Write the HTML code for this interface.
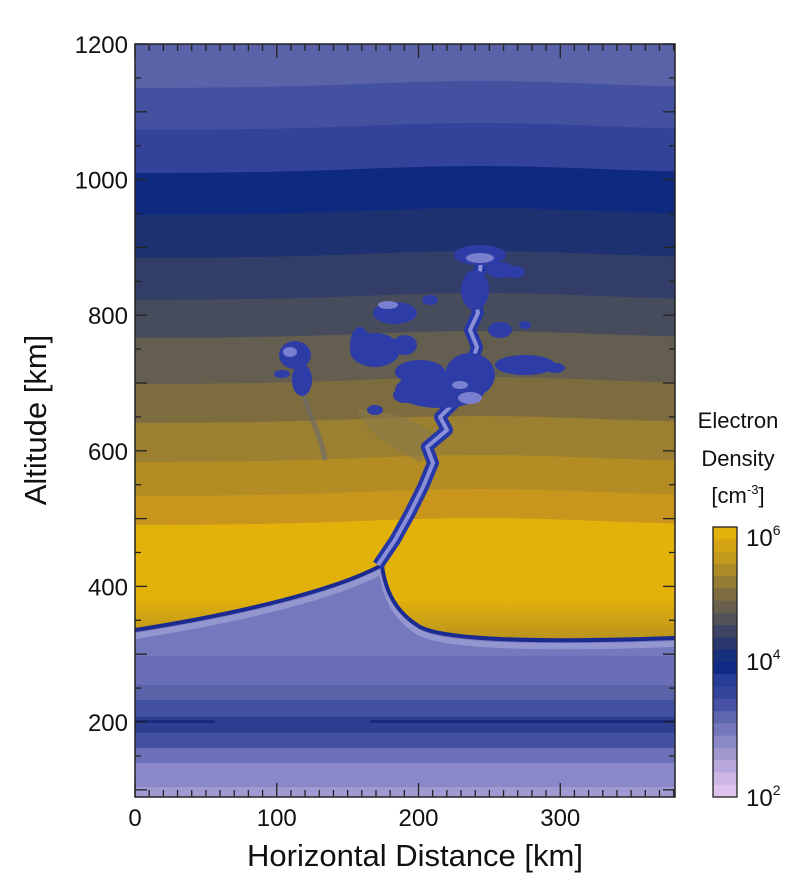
<!DOCTYPE html>
<html><head><meta charset="utf-8"><style>
body{margin:0;background:#fff;width:800px;height:881px;overflow:hidden}
svg text{font-family:"Liberation Sans",sans-serif;fill:#111}
</style></head><body>
<svg id="s" width="800" height="881" xmlns="http://www.w3.org/2000/svg">
<defs>
<clipPath id="c"><rect x="135" y="44" width="540" height="753"/></clipPath>
<linearGradient id="yg" x1="0" y1="0" x2="0" y2="1">
<stop offset="0" stop-color="#e3b20a"/><stop offset="0.93" stop-color="#e3b20a"/><stop offset="1" stop-color="#b8921e"/></linearGradient>
</defs>
<g clip-path="url(#c)" id="plot"></g>
<rect x="135" y="44" width="540" height="753" fill="none" stroke="#222" stroke-width="1.5"/>
<g id="ticks" stroke="#222" stroke-width="1.3"></g>
<g id="labels" font-size="24"></g>
<text x="0" y="0" font-size="31" text-anchor="middle" transform="translate(46,420) rotate(-90)">Altitude [km]</text>
<text x="415" y="866" font-size="31" text-anchor="middle">Horizontal Distance [km]</text>
<g id="cb"></g>
<rect x="713" y="527" width="24" height="270" fill="none" stroke="#222" stroke-width="1.3"/>
<text x="738" y="428" font-size="22" text-anchor="middle">Electron</text>
<text x="738" y="466" font-size="22" text-anchor="middle">Density</text>
<text x="738" y="503" font-size="22" text-anchor="middle">[cm<tspan font-size="13" dy="-9">-3</tspan><tspan dy="9">]</tspan></text>
<text x="746" y="546" font-size="24">10<tspan font-size="14" dy="-11">6</tspan></text>
<text x="746" y="670" font-size="24">10<tspan font-size="14" dy="-11">4</tspan></text>
<text x="746" y="806" font-size="24">10<tspan font-size="14" dy="-11">2</tspan></text>
</svg>
<script>
const NS="http://www.w3.org/2000/svg";
function el(p,t,a){const e=document.createElementNS(NS,t);for(const k in a)e.setAttribute(k,a[k]);p.appendChild(e);return e;}
const P=document.getElementById('plot');
const low=[[560,660,'#7478bc'],[656,685,'#6a6eb6'],[685,700,'#5a62a8'],[700,717,'#4450a0'],[717,733,'#2e3f92'],[733,748,'#4450a0'],[748,763,'#6c70b8'],[763,787,'#8a88c8'],[787,800,'#a09ad0']];
low.forEach(b=>el(P,'rect',{x:135,y:b[0],width:540,height:b[1]-b[0],fill:b[2]}));
el(P,'rect',{x:135,y:720,width:80,height:3,fill:'#1a2a80'});
el(P,'rect',{x:370,y:720,width:305,height:3,fill:'#1a2a80'});
const curve="M135,630 C250,612 340,588 382,565 C385,590 395,612 420,627 C450,642 560,642 675,638";
el(P,'path',{d:curve.replace(/(\d+),(\d+)/g,(m,a,b)=>a+","+(+b+6)),stroke:'#9496d0','stroke-width':6,fill:'none'});
el(P,'path',{d:"M135,40 H675 V638 C560,642 450,642 420,627 C395,612 385,590 382,565 C340,588 250,612 135,630 Z",fill:'url(#yg)'});
el(P,'path',{d:curve,stroke:'#1a2a90','stroke-width':4,fill:'none'});
const ub=[[525,'#c8961c'],[496,'#b38c24'],[462,'#9a8030'],[423,'#7d6d3e'],[384,'#645e50'],[338,'#474c5c'],[300,'#333e68'],[258,'#1d3170'],[215,'#0e2a80'],[173,'#34439a'],[130,'#4450a0'],[88,'#5a62a8']];
ub.forEach(b=>{let y=b[0];let d="M135,40 H675 V"+y;for(let x=675;x>=135;x-=15){d+=" L"+x+","+(y-7*Math.exp(-Math.pow((x-480)/160,2))).toFixed(1);}d+=" Z";el(P,'path',{d:d,fill:b[1]});});
const g=el(P,'g',{});
el(g,'path',{d:"M357,410 C370,440 400,450 420,463 L440,440 C420,420 390,410 357,410 Z",fill:'#8a7a48',opacity:0.6});
el(g,'path',{d:"M300,380 C305,410 320,430 325,460",stroke:'#6a6a70','stroke-width':5,fill:'none',opacity:0.6});
const stem="M378,565 L395,540 L410,513 L423,487 L433,463 L427,447 L447,430 L440,417 L460,397 L467,377 L477,347 L470,330 L478,313 L473,290 L480,270 L482,255";
el(g,'path',{d:stem,stroke:'#2638a8','stroke-width':12,fill:'none','stroke-linejoin':'round'});
el(g,'path',{d:stem,stroke:'#8a90d8','stroke-width':4,fill:'none','stroke-linejoin':'round'});
const blobs=[[295,355,16,14],[302,380,10,16],[282,374,8,4],[375,350,25,17],[395,313,22,11],[405,345,12,10],[440,390,45,18],[470,375,25,22],[420,372,25,12],[480,255,26,10],[500,270,14,8],[515,272,10,6],[475,290,14,20],[525,365,30,10],[555,368,10,5],[500,330,12,8],[430,300,8,5],[525,325,6,4],[360,345,10,18],[405,395,12,8],[375,410,8,5]];
blobs.forEach(b=>el(g,'ellipse',{cx:b[0],cy:b[1],rx:b[2],ry:b[3],fill:'#2e3ca8'}));
[[470,398,12,6],[480,258,14,5],[388,305,10,4],[290,352,7,5],[460,385,8,4]].forEach(b=>el(g,'ellipse',{cx:b[0],cy:b[1],rx:b[2],ry:b[3],fill:'#7a80d0'}));
const T=document.getElementById('ticks'),L=document.getElementById('labels');
const xp=k=>135+k*1.4175, yp2=a=>44+(1200-a)*0.678;
for(let k=0;k<=380;k+=10){const x=xp(k),len=k%100==0?14:7;el(T,'line',{x1:x,y1:44,x2:x,y2:44+len});el(T,'line',{x1:x,y1:797,x2:x,y2:797-len});}
for(let a=100;a<=1200;a+=50){const y=yp2(a),len=a%100==0?12:6;el(T,'line',{x1:135,y1:y,x2:135+len,y2:y});el(T,'line',{x1:675,y1:y,x2:675-len,y2:y});}
[0,100,200,300].forEach(k=>{const t=el(L,'text',{x:xp(k),y:826,'text-anchor':'middle'});t.textContent=k;});
[200,400,600,800,1000,1200].forEach(a=>{const t=el(L,'text',{x:128,y:yp2(a)+9,'text-anchor':'end'});t.textContent=a;});
const cc=['#e3b20a','#d4a414','#c29a1e','#ad8c28','#957c34','#7e6c40','#68604c','#535458','#3e4464','#2a386e','#16307c','#0e2a86','#263e96','#34469c','#4852a4','#5e66ae','#7478ba','#8a88c6','#a298d0','#b8a8dc','#ccb6e4','#dcc4ec'];
const CB=document.getElementById('cb');const h=270/cc.length;
cc.forEach((c,i)=>el(CB,'rect',{x:713,y:527+i*h,width:24,height:h+0.5,fill:c}));
</script>
</body></html>
